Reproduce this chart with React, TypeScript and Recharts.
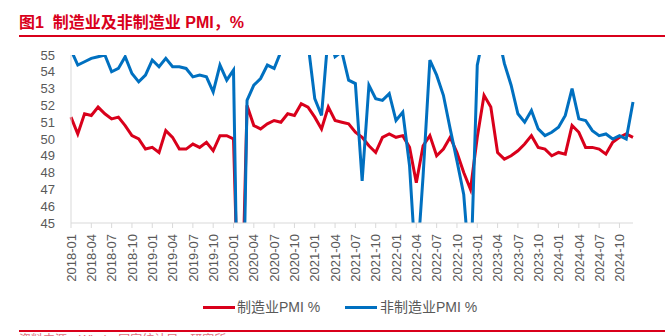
import React from "react";
import { LineChart, Line, XAxis, YAxis } from "recharts";

const months: string[] = [];
for (let y = 2018; y <= 2024; y++) {
  for (let m = 1; m <= 12; m++) {
    months.push(`${y}-${m < 10 ? "0" + m : m}`);
  }
}

const manufacturing = [
  51.3, 50.3, 51.5, 51.4, 51.9, 51.5, 51.2, 51.3, 50.8, 50.2, 50.0, 49.4,
  49.5, 49.2, 50.5, 50.1, 49.4, 49.4, 49.7, 49.5, 49.8, 49.3, 50.2, 50.2,
  50.0, 35.7, 52.0, 50.8, 50.6, 50.9, 51.1, 51.0, 51.5, 51.4, 52.1, 51.9,
  51.3, 50.6, 51.9, 51.1, 51.0, 50.9, 50.4, 50.1, 49.6, 49.2, 50.1, 50.3,
  50.1, 50.2, 49.5, 47.4, 49.6, 50.2, 49.0, 49.4, 50.1, 49.2, 48.0, 47.0,
  50.1, 52.6, 51.9, 49.2, 48.8, 49.0, 49.3, 49.7, 50.2, 49.5, 49.4, 49.0,
  49.2, 49.1, 50.8, 50.4, 49.5, 49.5, 49.4, 49.1, 49.8, 50.1, 50.3, 50.1,
];

const nonManufacturing = [
  55.3, 54.4, 54.6, 54.8, 54.9, 55.0, 54.0, 54.2, 54.9, 53.9, 53.4, 53.8,
  54.7, 54.3, 54.8, 54.3, 54.3, 54.2, 53.7, 53.8, 53.7, 52.8, 54.4, 53.5,
  54.1, 29.6, 52.3, 53.2, 53.6, 54.4, 54.2, 55.2, 55.9, 56.2, 56.4, 55.7,
  52.4, 51.4, 56.3, 54.9, 55.2, 53.5, 53.3, 47.5, 53.2, 52.4, 52.3, 52.7,
  51.1, 51.6, 48.4, 41.9, 47.8, 54.7, 53.8, 52.6, 50.6, 48.7, 46.7, 41.6,
  54.4, 56.3, 58.2, 56.4, 54.5, 53.2, 51.5, 51.0, 51.7, 50.6, 50.2, 50.4,
  50.7, 51.4, 53.0, 51.2, 51.1, 50.5, 50.2, 50.3, 50.0, 50.2, 50.0, 52.2,
];

const yTicks = [45, 46, 47, 48, 49, 50, 51, 52, 53, 54, 55];

const data = months.map((m, i) => ({
  month: m,
  mfg: manufacturing[i],
  nonMfg: nonManufacturing[i],
}));

const RED = "#d9001b";
const BLUE = "#0070c0";
const GREY = "#595959";
const FONT = "Arial, 'Liberation Sans', 'Noto Sans CJK SC', sans-serif";

const XTick = (props: any) => {
  const { x, y, payload } = props;
  const ay = y + 4;
  return (
    <text
      x={x}
      y={ay}
      transform={`rotate(-90, ${x}, ${ay})`}
      textAnchor="end"
      dy="0.36em"
      fill={GREY}
      fontSize={13}
      fontFamily={FONT}
    >
      {payload.value}
    </text>
  );
};

export default function App() {
  return (
    <div
      style={{
        position: "fixed",
        left: 0,
        top: 0,
        width: 665,
        height: 336,
        overflow: "hidden",
        background: "#fff",
        fontFamily: FONT,
      }}
    >
      <div
        style={{
          position: "absolute",
          left: 19,
          top: 13,
          color: RED,
          fontSize: 16,
          fontWeight: "bold",
          whiteSpace: "nowrap",
          lineHeight: "20px",
        }}
      >
        图1&nbsp;&nbsp;制造业及非制造业 PMI，%
      </div>
      <div
        style={{
          position: "absolute",
          left: 19,
          top: 35,
          width: 646,
          height: 2,
          background: RED,
        }}
      />
      <div style={{ position: "absolute", left: 0, top: 0 }}>
        <LineChart
          width={665}
          height={336}
          data={data}
          margin={{ top: 55, right: 32, bottom: 53, left: 21 }}
        >
          <XAxis
            dataKey="month"
            interval={2}
            height={60}
            tick={<XTick />}
            tickSize={5}
            axisLine={{ stroke: "#d9d9d9" }}
            tickLine={{ stroke: "#d9d9d9" }}
          />
          <YAxis
            domain={[45, 55]}
            ticks={yTicks}
            allowDataOverflow
            width={50}
            tickLine={false}
            tickMargin={10}
            axisLine={{ stroke: "#d9d9d9" }}
            tick={{ fill: GREY, fontSize: 13, fontFamily: FONT }}
            interval={0}
          />
          <Line
            dataKey="mfg"
            stroke={RED}
            strokeWidth={3}
            dot={false}
            isAnimationActive={false}
          />
          <Line
            dataKey="nonMfg"
            stroke={BLUE}
            strokeWidth={3}
            dot={false}
            isAnimationActive={false}
          />
        </LineChart>
      </div>
      <div
        style={{
          position: "absolute",
          left: 203,
          top: 306,
          width: 32,
          height: 3,
          background: RED,
        }}
      />
      <div
        style={{
          position: "absolute",
          left: 237,
          top: 298,
          fontSize: 14,
          color: GREY,
          whiteSpace: "nowrap",
          lineHeight: "18px",
        }}
      >
        制造业PMI %
      </div>
      <div
        style={{
          position: "absolute",
          left: 345,
          top: 306,
          width: 32,
          height: 3,
          background: BLUE,
        }}
      />
      <div
        style={{
          position: "absolute",
          left: 380,
          top: 298,
          fontSize: 14,
          color: GREY,
          whiteSpace: "nowrap",
          lineHeight: "18px",
        }}
      >
        非制造业PMI %
      </div>
      <div
        style={{
          position: "absolute",
          left: 19,
          top: 330,
          width: 646,
          height: 2,
          background: RED,
        }}
      />
      <div
        style={{
          position: "absolute",
          left: 19,
          top: 334,
          fontSize: 12,
          color: "#e07080",
          whiteSpace: "nowrap",
          lineHeight: "12px",
        }}
      >
        资料来源：Wind，国家统计局，研究所
      </div>
    </div>
  );
}
